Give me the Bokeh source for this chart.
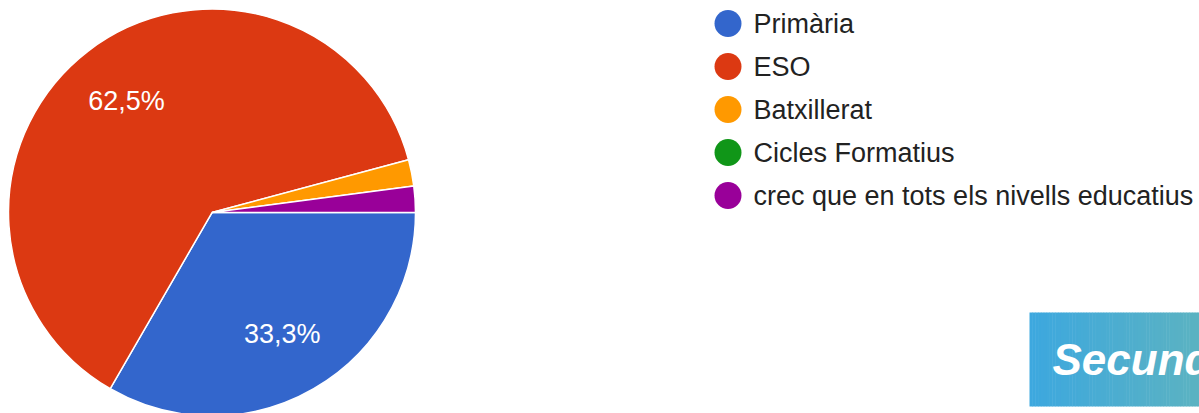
import numpy as np
from bokeh.plotting import figure
from bokeh.models import Range1d
from bokeh.core.properties import value
from bokeh.embed import file_html
from bokeh.resources import INLINE

# ---- data ----
categories = ["Primària", "ESO", "Batxillerat", "Cicles Formatius",
              "crec que en tots els nivells educatius"]
counts = [16, 30, 1, 0, 1]
colors = ["#3366cc", "#dc3912", "#ff9900", "#109618", "#990099"]
pct_labels = ["33,3%", "62,5%", "2,1%", "0%", "2,1%"]
banner_text = "Secund"

FONT = "Liberation Sans"
W, H = 1199, 413
SH = 413  # screen height used to flip coordinates

p = figure(width=W, height=H, x_range=Range1d(0, W),
           y_range=Range1d(SH - H, SH),
           output_backend="svg", toolbar_location=None, min_border=0)
p.axis.visible = False
p.grid.visible = False
p.outline_line_color = None
p.background_fill_color = "white"
p.border_fill_color = "white"

# ---- pie ----
cx, cy, r = 211.5, SH - 212, 203.5
total = float(sum(counts))
frac = np.array(counts) / total
cum = np.concatenate([[0.0], np.cumsum(frac)])
a0 = -cum[:-1] * 2 * np.pi
a1 = -cum[1:] * 2 * np.pi
mask = frac > 0
p.wedge(x=cx, y=cy, radius=r,
        start_angle=a1[mask], end_angle=a0[mask], direction="anticlock",
        fill_color=[c for c, m in zip(colors, mask) if m],
        line_color="white", line_width=1.5)

mid = (a0 + a1) / 2
show = frac > 0.05
lx = cx + 0.69 * r * np.cos(mid[show])
ly = cy + 0.69 * r * np.sin(mid[show])
p.text(x=lx, y=ly, text=[t for t, s in zip(pct_labels, show) if s],
       text_color="white", text_font=value(FONT), text_font_size="27px",
       text_align="center", text_baseline="middle")

# ---- legend ----
idx = np.arange(len(categories))
leg_y = SH - (23 + 43 * idx)
p.scatter(x=[727.5] * len(categories), y=leg_y, size=27, marker="circle",
          fill_color=colors, line_color=None)
p.text(x=[753] * len(categories), y=leg_y, text=categories,
       text_color="#222222", text_font=value(FONT), text_font_size="27px",
       text_align="left", text_baseline="middle")

# ---- banner (gradient box) ----
n = 60
xs = np.linspace(1029, 1200, n + 1)
c0 = np.array([61, 168, 223])
c1 = np.array([92, 179, 194])
t = np.linspace(0, 1, n)
strip_cols = ["#%02x%02x%02x" % tuple((c0 + (c1 - c0) * ti).astype(int)) for ti in t]
p.quad(left=xs[:-1], right=xs[1:] + 0.5, bottom=SH - 406, top=SH - 312,
       fill_color=strip_cols, line_color=None)
p.text(x=[1052], y=[SH - 359], text=[banner_text], text_color="white",
       text_font=value(FONT), text_font_size="44px", text_font_style="bold italic",
       text_align="left", text_baseline="middle")

open("out.html", "w").write(file_html(p, INLINE))
